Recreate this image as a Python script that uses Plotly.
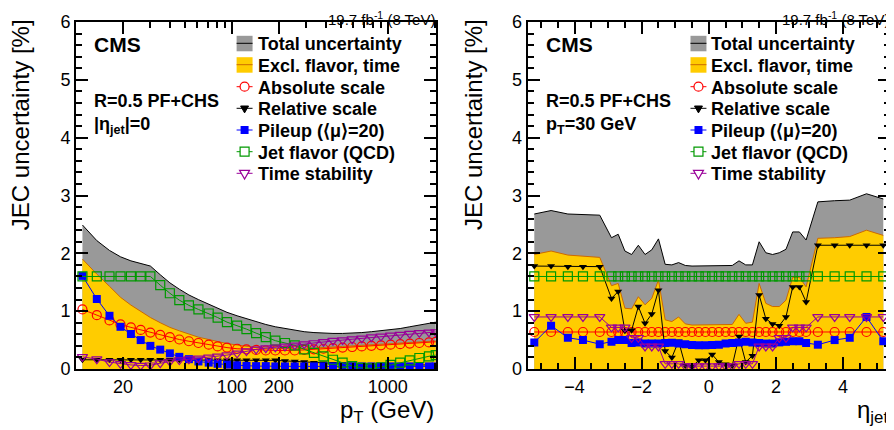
import plotly.graph_objects as go

FONT = "Liberation Sans, Arial, Helvetica, sans-serif"

# ---------------- Left panel: versus pT at |eta| = 0 ----------------
pt = [11, 13.6, 16.4, 19.3, 22.5, 26, 30, 34.7, 40, 46, 53, 61, 71, 81, 93, 108,
      124, 143, 165, 190, 219, 253, 291, 336, 387, 445, 513, 591, 681, 785, 904,
      1042, 1201, 1383, 1594, 1837, 2030]
pt_total = [2.49, 2.22, 2.05, 1.94, 1.87, 1.82, 1.78, 1.63, 1.49, 1.38, 1.28, 1.20,
            1.12, 1.05, 0.98, 0.92, 0.87, 0.82, 0.77, 0.73, 0.70, 0.67, 0.645, 0.63,
            0.62, 0.615, 0.615, 0.62, 0.63, 0.645, 0.66, 0.68, 0.70, 0.73, 0.76,
            0.79, 0.81]
pt_excl = [1.90, 1.64, 1.43, 1.24, 1.105, 0.99, 0.89, 0.80, 0.72, 0.66, 0.605, 0.55,
           0.51, 0.47, 0.44, 0.415, 0.39, 0.37, 0.36, 0.355, 0.35, 0.35, 0.355, 0.36,
           0.37, 0.38, 0.39, 0.40, 0.41, 0.42, 0.43, 0.44, 0.45, 0.46, 0.47, 0.48,
           0.485]
pt_absolute = [1.03, 0.93, 0.84, 0.77, 0.72, 0.675, 0.63, 0.59, 0.55, 0.51, 0.48,
               0.45, 0.42, 0.39, 0.37, 0.35, 0.34, 0.33, 0.32, 0.32, 0.32, 0.32,
               0.33, 0.34, 0.35, 0.36, 0.37, 0.38, 0.39, 0.40, 0.41, 0.42, 0.43,
               0.44, 0.45, 0.46, 0.47]
pt_relative = [0.16, 0.16, 0.16, 0.16, 0.16, 0.16, 0.16, 0.16, 0.16, 0.16, 0.16,
               0.155, 0.155, 0.15, 0.15, 0.15, 0.15, 0.15, 0.15, 0.15, 0.14, 0.13,
               0.12, 0.11, 0.10, 0.09, 0.085, 0.08, 0.075, 0.07, 0.07, 0.07, 0.07,
               0.07, 0.07, 0.07, 0.07]
pt_pileup = [1.61, 1.21, 0.92, 0.73, 0.605, 0.50, 0.40, 0.335, 0.27, 0.21, 0.17,
             0.13, 0.11, 0.09, 0.075, 0.065, 0.055, 0.05, 0.05, 0.045, 0.045, 0.045,
             0.045, 0.045, 0.045, 0.045, 0.045, 0.045, 0.045, 0.045, 0.045, 0.045,
             0.045, 0.045, 0.045, 0.045, 0.045]
pt_flavor = [1.6, 1.6, 1.6, 1.6, 1.6, 1.6, 1.6, 1.45, 1.31, 1.19, 1.10, 1.03, 0.96,
             0.89, 0.81, 0.75, 0.69, 0.62, 0.55, 0.49, 0.45, 0.41, 0.34, 0.28, 0.22,
             0.16, 0.11, 0.05, 0.02, 0.01, 0.03, 0.07, 0.11, 0.15, 0.19, 0.22, 0.24]
pt_time = [0.21, 0.17, 0.12, 0.09, 0.07, 0.06, 0.065, 0.10, 0.13, 0.155, 0.17, 0.185,
           0.20, 0.22, 0.24, 0.27, 0.31, 0.34, 0.36, 0.375, 0.39, 0.41, 0.43, 0.45,
           0.47, 0.49, 0.50, 0.515, 0.53, 0.55, 0.565, 0.58, 0.595, 0.61, 0.625,
           0.635, 0.64]

# ---------------- Right panel: versus eta at pT = 30 GeV ----------------
eta = [-5.2, -4.7, -4.2, -3.75, -3.25, -2.9, -2.7, -2.5, -2.3, -2.1, -1.9, -1.7,
       -1.5, -1.3, -1.1, -0.9, -0.7, -0.5, -0.3, -0.1, 0.1, 0.3, 0.5, 0.7, 0.9,
       1.1, 1.3, 1.5, 1.7, 1.9, 2.1, 2.3, 2.5, 2.7, 2.9, 3.25, 3.75, 4.2, 4.7, 5.2]
eta_total = [2.68, 2.74, 2.68, 2.67, 2.66, 2.27, 2.33, 2.04, 1.98, 2.14, 1.98, 2.06,
             2.25, 1.81, 1.80, 1.84, 1.79, 1.78, 1.78, 1.78, 1.79, 1.79, 1.79, 1.79,
             1.87, 1.80, 1.80, 2.20, 2.01, 1.98, 2.01, 2.07, 2.37, 2.37, 2.23, 2.89,
             2.91, 2.92, 3.03, 2.94]
eta_excl = [1.98, 2.04, 1.97, 1.95, 1.93, 1.44, 1.48, 1.05, 1.04, 1.25, 1.11, 1.22,
            1.54, 0.85, 0.82, 0.90, 0.78, 0.76, 0.76, 0.76, 0.76, 0.77, 0.77, 0.77,
            0.945, 0.79, 0.81, 1.48, 1.135, 1.08, 1.08, 1.19, 1.585, 1.585, 1.42,
            2.26, 2.27, 2.29, 2.40, 2.31]
eta_absolute = [0.64] * 40
eta_relative = [1.78, 1.78, 1.77, 1.77, 1.77, 1.22, 1.34, 0.66, 0.67, 1.08, 0.79,
                0.95, 1.36, 0.31, 0.20, 0.48, 0.06, 0.04, 0.15, 0.15, 0.25, 0.12,
                0.08, 0.06, 0.56, 0.12, 0.23, 1.28, 0.87, 0.78, 0.75, 0.90, 1.42,
                1.42, 1.16, 2.14, 2.14, 2.14, 2.14, 2.14]
eta_pileup = [0.46, 0.75, 0.54, 0.50, 0.43, 0.47, 0.50, 0.50, 0.45, 0.46, 0.44, 0.44,
              0.44, 0.45, 0.455, 0.44, 0.43, 0.415, 0.41, 0.41, 0.415, 0.42, 0.44,
              0.45, 0.46, 0.47, 0.46, 0.45, 0.44, 0.44, 0.46, 0.47, 0.48, 0.48, 0.45,
              0.42, 0.50, 0.54, 0.90, 0.48]
eta_flavor = [1.6] * 40
eta_time = [0.90, 0.90, 0.90, 0.90, 0.90, 0.72, 0.72, 0.72, 0.54, 0.54, 0.39, 0.39,
            0.39, 0.09, 0.09, 0.09, 0.05, 0.05, 0.05, 0.05, 0.05, 0.05, 0.05, 0.05,
            0.09, 0.09, 0.09, 0.39, 0.39, 0.39, 0.54, 0.54, 0.72, 0.72, 0.72, 0.90,
            0.90, 0.90, 0.90, 0.90]

names = ["Total uncertainty", "Excl. flavor, time", "Absolute scale", "Relative scale",
         "Pileup (⟨μ⟩=20)", "Jet flavor (QCD)", "Time stability"]

GRAY = "#999999"
YELLOW = "#ffcc00"
YEDGE = "#cc6a00"
RED = "#ff0000"
BLUE = "#0000ff"
GREEN = "#009900"
PURPLE = "#990099"

# ---- geometry (screen pixels; the page body adds an 8 px offset) ----
OFF = 8
W, H = 886, 422
L, R, T, B = 68, 2, 14, 61
PW = W - L - R
PH = H - T - B


def sx(px):
    return (px - OFF - L) / PW


def sy(py):
    return (H - B - (py - OFF)) / PH


fig = go.Figure()


def add_panel(x, total, excl, absolute, relative, pileup, flavor, time, xa, ya):
    common = dict(xaxis=xa, yaxis=ya, showlegend=False)
    fig.add_trace(go.Scatter(x=x, y=total, name=names[0], mode="lines", fill="tozeroy",
                             fillcolor=GRAY, line=dict(color="black", width=1), **common))
    fig.add_trace(go.Scatter(x=x, y=excl, name=names[1], mode="lines", fill="tozeroy",
                             fillcolor=YELLOW, line=dict(color=YEDGE, width=1), **common))
    fig.add_trace(go.Scatter(x=x, y=absolute, name=names[2], mode="lines+markers",
                             line=dict(color=RED, width=1),
                             marker=dict(symbol="circle-open", size=9, color=RED,
                                         line=dict(width=1.2)), **common))
    fig.add_trace(go.Scatter(x=x, y=relative, name=names[3], mode="lines+markers",
                             line=dict(color="black", width=1),
                             marker=dict(symbol="triangle-down", size=7, color="black"),
                             **common))
    fig.add_trace(go.Scatter(x=x, y=pileup, name=names[4], mode="lines+markers",
                             line=dict(color=BLUE, width=1),
                             marker=dict(symbol="square", size=8, color=BLUE), **common))
    fig.add_trace(go.Scatter(x=x, y=flavor, name=names[5], mode="lines+markers",
                             line=dict(color=GREEN, width=1),
                             marker=dict(symbol="square-open", size=9, color=GREEN,
                                         line=dict(width=1.2)), **common))
    fig.add_trace(go.Scatter(x=x, y=time, name=names[6], mode="lines+markers",
                             line=dict(color=PURPLE, width=1),
                             marker=dict(symbol="triangle-down-open", size=9, color=PURPLE,
                                         line=dict(width=1.2)), **common))


add_panel(pt, pt_total, pt_excl, pt_absolute, pt_relative, pt_pileup, pt_flavor, pt_time,
          "x", "y")
add_panel(eta, eta_total, eta_excl, eta_absolute, eta_relative, eta_pileup, eta_flavor,
          eta_time, "x2", "y2")

axis_common = dict(showline=True, linecolor="black", linewidth=2, mirror="allticks",
                   ticks="inside", ticklen=12, tickwidth=1.5, tickcolor="black",
                   showgrid=False, zeroline=False,
                   tickfont=dict(family=FONT, size=18, color="black"))
minor_common = dict(ticks="inside", ticklen=6, tickwidth=1.5, tickcolor="black",
                    showgrid=False)

log_minor = [30, 40, 50, 60, 70, 80, 90, 300, 400, 500, 600, 700, 800, 900, 2000]

fig.update_layout(
    width=W, height=H,
    margin=dict(l=L, r=R, t=T, b=B),
    paper_bgcolor="white", plot_bgcolor="white",
    font=dict(family=FONT, color="black"),
    showlegend=False,
    xaxis=dict(domain=[0, sx(437)], type="log", range=[1, 3.31],
               tickmode="array", tickvals=[20, 100, 200, 1000],
               ticktext=["20", "100", "200", "1000"],
               minor=dict(tickmode="array", tickvals=log_minor, **minor_common),
               anchor="y", **axis_common),
    yaxis=dict(domain=[0, 1], range=[0, 6], tickmode="array",
               tickvals=[0, 1, 2, 3, 4, 5, 6],
               minor=dict(tickmode="linear", tick0=0, dtick=0.2, **minor_common),
               anchor="x", **axis_common),
    xaxis2=dict(domain=[sx(528.7), 1], range=[-5.4, 5.4], tickmode="array",
                tickvals=[-4, -2, 0, 2, 4],
                minor=dict(tickmode="linear", tick0=0, dtick=0.5, **minor_common),
                anchor="y2", **axis_common),
    yaxis2=dict(domain=[0, 1], range=[0, 6], tickmode="array",
                tickvals=[0, 1, 2, 3, 4, 5, 6],
                minor=dict(tickmode="linear", tick0=0, dtick=0.2, **minor_common),
                anchor="x2", **axis_common),
)

ann = []
shapes = []
bold = dict(family=FONT, color="black", weight="bold")
for xd, yd, extra in [("x domain", "y domain", "|η<sub>jet</sub>|=0"),
                      ("x2 domain", "y2 domain", "p<sub>T</sub>=30 GeV")]:
    ann.append(dict(xref=xd, yref="paper", x=0.044, y=sy(44.5), xanchor="left",
                    yanchor="middle", text="CMS", showarrow=False,
                    font=dict(size=21, **bold)))
    ann.append(dict(xref=xd, yref="paper", x=0.044, y=sy(101), xanchor="left",
                    yanchor="middle", text="R=0.5 PF+CHS", showarrow=False,
                    font=dict(size=18, **bold)))
    ann.append(dict(xref=xd, yref="paper", x=0.044, y=sy(125), xanchor="left",
                    yanchor="middle", text=extra, showarrow=False,
                    font=dict(size=18, **bold)))
    ann.append(dict(xref=xd, yref="paper", x=1.0, y=sy(8), xanchor="right",
                    yanchor="top", text="19.7 fb<sup>-1</sup> (8 TeV)",
                    showarrow=False, borderpad=0,
                    font=dict(family=FONT, size=15, color="black")))

for xp in [20, 474]:
    ann.append(dict(xref="paper", yref="paper", x=sx(xp), y=sy(125),
                    xanchor="center", yanchor="middle", textangle=-90,
                    text="JEC uncertainty [%]", showarrow=False,
                    font=dict(family=FONT, size=24, color="black")))

ann.append(dict(xref="x domain", yref="paper", x=1.0, y=sy(394), xanchor="right",
                yanchor="top", text="p<sub>T</sub> (GeV)", showarrow=False,
                font=dict(family=FONT, size=24, color="black")))
ann.append(dict(xref="x2 domain", yref="paper", x=1.0, y=sy(394), xanchor="right",
                yanchor="top", text="η<sub>jet</sub>", showarrow=False,
                font=dict(family=FONT, size=24, color="black")))

# ---- legends (drawn as layout decorations) ----
rows = [43.3, 64.7, 86.7, 108.3, 130, 151.7, 173.3]


def shp(kind, **kw):
    d = dict(type=kind, xref="paper", yref="paper", layer="above")
    d.update(kw)
    shapes.append(d)


def legend(box_x, text_x):
    cx = box_x + 8
    for i, name in enumerate(names):
        yc = rows[i]
        ann.append(dict(xref="paper", yref="paper", x=sx(text_x), y=sy(yc + 1),
                        xanchor="left", yanchor="middle", text=name, showarrow=False,
                        font=dict(size=18, **bold)))
        if i < 2:
            fillc = GRAY if i == 0 else YELLOW
            linec = "black" if i == 0 else YEDGE
            shp("rect", x0=sx(box_x), x1=sx(box_x + 16), y0=sy(yc - 7.5), y1=sy(yc + 8),
                fillcolor=fillc, line=dict(width=0))
            shp("line", x0=sx(box_x), x1=sx(box_x + 16), y0=sy(yc), y1=sy(yc),
                line=dict(color=linec, width=1))
            continue
        col = [RED, "black", BLUE, GREEN, PURPLE][i - 2]
        shp("line", x0=sx(box_x), x1=sx(box_x + 16), y0=sy(yc), y1=sy(yc),
            line=dict(color=col, width=1))
        if i == 2:
            shp("circle", x0=sx(cx - 4.5), x1=sx(cx + 4.5), y0=sy(yc - 4.5),
                y1=sy(yc + 4.5), fillcolor="white", line=dict(color=col, width=1.2))
        elif i == 3:
            path = "M{},{} L{},{} L{},{} Z".format(sx(cx - 4), sy(yc - 2.3), sx(cx + 4),
                                                  sy(yc - 2.3), sx(cx), sy(yc + 4.6))
            shp("path", path=path, fillcolor=col, line=dict(color=col, width=1))
        elif i == 4:
            shp("rect", x0=sx(cx - 4), x1=sx(cx + 4), y0=sy(yc - 4), y1=sy(yc + 4),
                fillcolor=col, line=dict(width=0))
        elif i == 5:
            shp("rect", x0=sx(cx - 4.5), x1=sx(cx + 4.5), y0=sy(yc - 4.5),
                y1=sy(yc + 4.5), fillcolor="white", line=dict(color=col, width=1.2))
        else:
            path = "M{},{} L{},{} L{},{} Z".format(sx(cx - 5), sy(yc - 2.9), sx(cx + 5),
                                                  sy(yc - 2.9), sx(cx), sy(yc + 5.8))
            shp("path", path=path, fillcolor="white", line=dict(color=col, width=1.2))


legend(237, 256.7)
legend(692, 710.3)

fig.update_layout(annotations=ann, shapes=shapes)

fig.write_html("out.html")
